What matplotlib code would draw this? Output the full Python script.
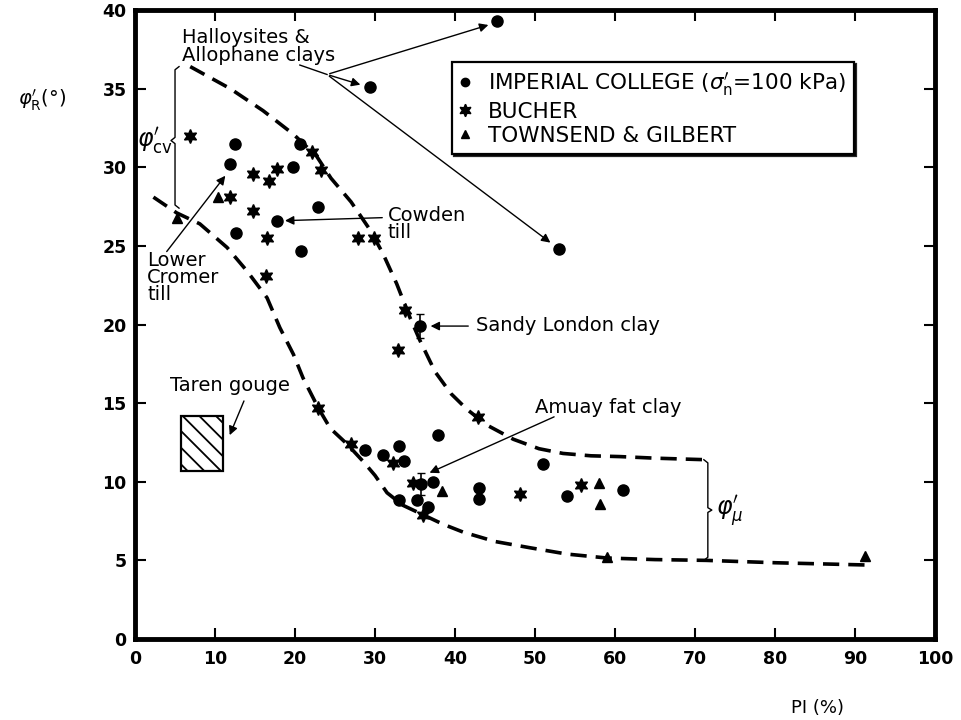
import numpy as np
import matplotlib.pyplot as plt
from matplotlib.patches import Rectangle
from matplotlib.lines import Line2D

plt.rcParams['font.family'] = ['DejaVu Sans']
plt.rcParams['hatch.linewidth'] = 1.3

# Imperial College (sigma'n = 100 kPa)
ic_x = [45.2, 29.4, 53.0, 12.5, 20.6, 11.9, 19.7, 22.9, 17.7, 12.6, 20.8,
        35.6, 37.9, 28.75, 31.0, 33.0, 33.6, 35.8, 37.3, 33.0, 35.2, 36.6,
        43.0, 43.0, 51.0, 54.0, 61.0]
ic_y = [39.3, 35.1, 24.8, 31.5, 31.5, 30.2, 30.0, 27.5, 26.6, 25.8, 24.7,
        19.9, 13.0, 12.0, 11.7, 12.3, 11.3, 9.85, 10.0, 8.85, 8.85, 8.4,
        9.6, 8.9, 11.1, 9.1, 9.5]

# Bucher
bu_x = [6.9, 22.1, 14.8, 17.7, 16.8, 23.2, 11.9, 14.7, 16.5, 27.9, 29.9,
        16.4, 33.75, 32.9, 22.9, 42.9, 27.0, 32.3, 34.7, 36.0, 48.1, 55.8]
bu_y = [32.0, 31.0, 29.6, 29.9, 29.1, 29.8, 28.1, 27.2, 25.5, 25.5, 25.5,
        23.1, 20.9, 18.4, 14.7, 14.1, 12.4, 11.2, 9.9, 7.9, 9.2, 9.8]

# Townsend & Gilbert
tg_x = [10.4, 5.2, 38.4, 58.0, 58.1, 59.0, 91.25]
tg_y = [28.1, 26.8, 9.4, 9.9, 8.6, 5.2, 5.3]

# points with error bars (Sandy London clay, Amuay fat clay)
eb_x = [35.6, 35.8]
eb_y = [19.9, 9.85]
eb_err = [0.75, 0.7]

# upper and lower bounding curves
up_x = [6.9, 11.9, 16.0, 19.8, 22.7, 24.5, 27.0, 29.4, 31.0, 32.7, 34.4,
        35.6, 37.5, 39.5, 41.5, 44.0, 47.3, 50.5, 53.5, 57.0, 60.6, 65.0, 71.4]
up_y = [36.4, 35.0, 33.6, 32.1, 30.7, 29.3, 27.8, 26.0, 24.5, 22.6, 20.4,
        19.0, 17.0, 15.6, 14.6, 13.6, 12.7, 12.1, 11.8, 11.65, 11.6, 11.5, 11.4]
lo_x = [2.3, 5.2, 8.1, 11.5, 14.0, 16.5, 18.1, 19.8, 21.0, 22.9, 24.4, 26.5,
        28.5, 30.0, 31.5, 33.5, 36.0, 38.5, 41.0, 45.0, 49.4, 54.0, 59.0,
        65.0, 71.4, 80.0, 91.9]
lo_y = [28.1, 27.1, 26.4, 24.9, 23.4, 21.7, 19.8, 18.1, 16.6, 14.7, 13.4, 12.4,
        11.3, 10.4, 9.3, 8.5, 7.9, 7.3, 6.8, 6.2, 5.8, 5.4, 5.15,
        5.05, 5.0, 4.85, 4.7]

fig = plt.figure(figsize=(9.61, 7.2), dpi=100)
ax = fig.add_axes([0.1405, 0.1125, 0.8325, 0.8736])

dash = (0, (4.5, 2.5))
ax.plot(up_x, up_y, color='black', lw=2.6, linestyle=dash)
ax.plot(lo_x, lo_y, color='black', lw=2.6, linestyle=dash)

ax.plot(ic_x, ic_y, 'o', color='black', ms=8)
ax.plot(bu_x, bu_y, marker=(6, 1, 0), linestyle='none', color='black', ms=10)
ax.plot(tg_x, tg_y, '^', color='black', ms=7)
ax.errorbar(eb_x, eb_y, yerr=eb_err, fmt='none', ecolor='black', elinewidth=1.2, capsize=3)

# Taren gouge
ax.add_patch(Rectangle((5.8, 10.7), 5.2, 3.5, fill=False, edgecolor='black',
                       lw=1.6, hatch='\\\\'))

arr = dict(arrowstyle='-|>', color='black', lw=1.0, mutation_scale=13)
tsize = 14

# Halloysites & Allophane clays
ax.text(5.9, 37.7, 'Halloysites &\nAllophane clays', fontsize=tsize, va='center',
        linespacing=0.92)
ax.plot([20.6, 24.0], [36.5, 35.9], color='black', lw=1.0)
ax.annotate('', xy=(44.5, 39.1), xytext=(24.0, 35.9), arrowprops=arr)
ax.annotate('', xy=(28.5, 35.2), xytext=(24.0, 35.9), arrowprops=arr)
ax.annotate('', xy=(52.2, 25.1), xytext=(24.0, 35.9), arrowprops=arr)

# Lower Cromer till
ax.text(1.5, 23.0, 'Lower\nCromer\ntill', fontsize=tsize, va='center', linespacing=0.86)
ax.annotate('', xy=(11.5, 29.6), xytext=(3.75, 24.5), arrowprops=arr)

# Cowden till
ax.text(31.6, 26.4, 'Cowden\ntill', fontsize=tsize, va='center', linespacing=0.86)
ax.annotate('', xy=(18.4, 26.6), xytext=(31.25, 26.8), arrowprops=arr)

# Sandy London clay
ax.text(42.6, 19.95, 'Sandy London clay', fontsize=tsize, va='center')
ax.annotate('', xy=(36.6, 19.9), xytext=(42.0, 19.9), arrowprops=arr)

# Amuay fat clay
ax.text(50.0, 14.7, 'Amuay fat clay', fontsize=tsize, va='center')
ax.annotate('', xy=(36.5, 10.5), xytext=(52.7, 14.2), arrowprops=arr)

# Taren gouge
ax.text(4.4, 16.1, 'Taren gouge', fontsize=tsize, va='center')
ax.annotate('', xy=(11.7, 12.8), xytext=(13.75, 15.3), arrowprops=arr)

# phi'cv bracket
bx = 5.0
ax.plot([bx + 0.5, bx, bx, bx - 0.5, bx, bx, bx + 0.5],
        [36.4, 36.2, 31.9, 31.7, 31.5, 27.6, 27.4], color='black', lw=1.0)
ax.text(4.7, 31.7, r"$\varphi^{\prime}_{\mathrm{cv}}$", fontsize=17, ha='right', va='center')

# phi'mu bracket
mx = 71.6
ax.plot([mx - 0.5, mx, mx, mx + 0.5, mx, mx, mx - 0.5],
        [11.4, 11.2, 8.35, 8.2, 8.05, 5.2, 5.0], color='black', lw=1.0)
ax.text(72.6, 8.1, r"$\varphi^{\prime}_{\mu}$", fontsize=17, ha='left', va='center')

# legend
handles = [
    Line2D([], [], marker='o', color='black', linestyle='none', ms=6),
    Line2D([], [], marker=(6, 1, 0), color='black', linestyle='none', ms=9),
    Line2D([], [], marker='^', color='black', linestyle='none', ms=6),
]
labels = [r"IMPERIAL COLLEGE ($\sigma^{\prime}_{\mathrm{n}}$=100 kPa)",
          'BUCHER', 'TOWNSEND & GILBERT']
leg = ax.legend(handles, labels, loc='upper left', bbox_to_anchor=(0.396, 0.917),
                fontsize=15.5, frameon=True, fancybox=False, edgecolor='black',
                handlelength=0.5, handletextpad=0.8, borderpad=0.38,
                labelspacing=0.18, borderaxespad=0,
                shadow={'color': 'black', 'alpha': 0.85, 'ox': 1.5, 'oy': -1.5})
leg.get_frame().set_linewidth(1.6)

ax.set_xlim(0, 100)
ax.set_ylim(0, 40)
ax.set_xticks(np.arange(0, 101, 10))
ax.set_yticks(np.arange(0, 41, 5))
ax.tick_params(direction='in', length=8, width=1.5, top=True, right=True,
               labelsize=12.5)
ax.tick_params(axis='x', pad=8)
ax.tick_params(axis='y', pad=6)
for lbl in ax.get_xticklabels() + ax.get_yticklabels():
    lbl.set_fontweight('bold')
for sp in ax.spines.values():
    sp.set_linewidth(3.5)

fig.text(0.851, 0.017, 'PI (%)', fontsize=13, ha='center', va='center')
fig.text(0.044, 0.861, r"$\varphi^{\prime}_{\mathrm{R}}$(°)", fontsize=14,
         ha='center', va='center')

fig.savefig('out.png', dpi=100)
